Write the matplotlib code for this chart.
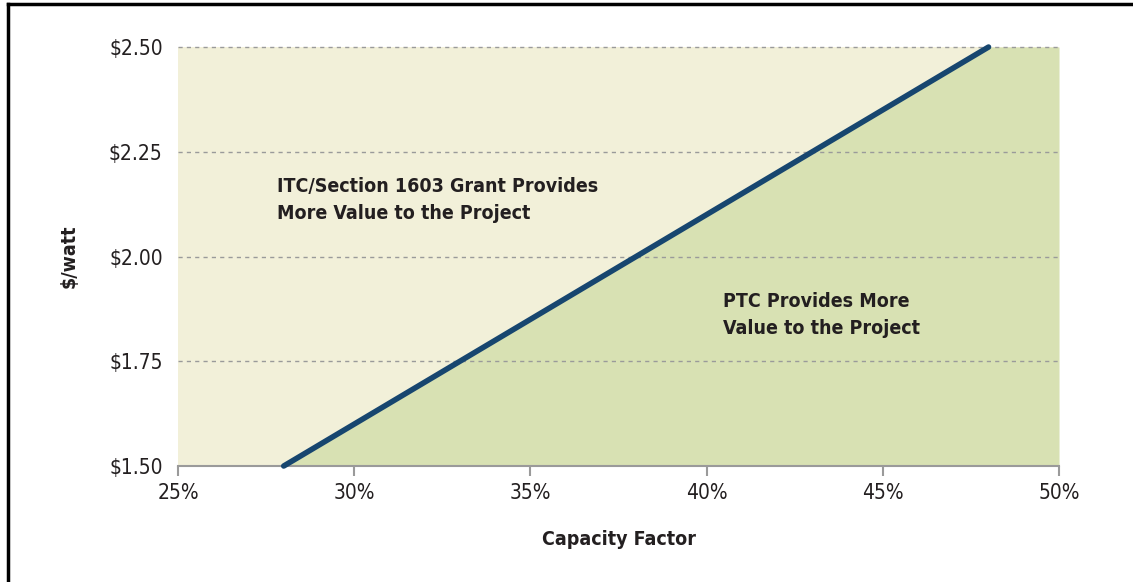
import matplotlib.pyplot as plt
from matplotlib.lines import Line2D

# breakeven line: capacity factor (%) vs installed cost ($/watt)
capacity_factor = [28, 48]
cost_per_watt = [1.50, 2.50]

x_ticks = [25, 30, 35, 40, 45, 50]
x_labels = ['25%', '30%', '35%', '40%', '45%', '50%']
y_ticks = [1.50, 1.75, 2.00, 2.25, 2.50]
y_labels = ['$1.50', '$1.75', '$2.00', '$2.25', '$2.50']

itc_label = 'ITC/Section 1603 Grant Provides\nMore Value to the Project'
ptc_label = 'PTC Provides More\nValue to the Project'

plt.rcParams['font.family'] = ['DejaVu Sans']
plt.rcParams['font.stretch'] = 'condensed'

fig = plt.figure(figsize=(11.33, 5.82), dpi=100)
ax = fig.add_axes([0.1571, 0.1993, 0.7776, 0.7199])

light = '#f2f0d9'
green = '#d8e1b3'
ax.set_facecolor(light)

# PTC region: below the breakeven line, continued flat to the right edge
fill_x = capacity_factor + [x_ticks[-1]]
fill_y = cost_per_watt + [cost_per_watt[-1]]
ax.fill_between(fill_x, fill_y, y_ticks[0], color=green, lw=0, zorder=1)

for y in y_ticks[1:]:
    ax.axhline(y, color='#9a9a9a', lw=1, ls=(0, (3, 3)), zorder=2, clip_on=False)

ax.plot(capacity_factor, cost_per_watt, color='#17466f', lw=4,
        solid_capstyle='round', zorder=3, clip_on=False)

ax.set_xlim(x_ticks[0], x_ticks[-1])
ax.set_ylim(y_ticks[0], y_ticks[-1])
ax.set_xticks(x_ticks)
ax.set_xticklabels(x_labels)
ax.set_yticks(y_ticks)
ax.set_yticklabels(y_labels)
ax.tick_params(axis='x', colors='#9a9a9a', length=7, width=1.5, labelsize=15,
               labelcolor='#231f20', pad=5)
ax.tick_params(axis='y', length=0, labelsize=15, labelcolor='#231f20', pad=11)

for side in ['top', 'right', 'left']:
    ax.spines[side].set_visible(False)
ax.spines['bottom'].set_color('#9a9a9a')
ax.spines['bottom'].set_linewidth(1.5)

ax.set_xlabel('Capacity Factor', fontsize=14, fontweight='bold', color='#231f20', labelpad=20)
ax.set_ylabel('$/watt', fontsize=14, fontweight='bold', color='#231f20', labelpad=22)

ax.text(27.8, 2.135, itc_label, fontsize=14, fontweight='bold', color='#231f20',
        ha='left', va='center', linespacing=1.5)
ax.text(40.47, 1.86, ptc_label, fontsize=14, fontweight='bold', color='#231f20',
        ha='left', va='center', linespacing=1.5)

# frame lines of the original figure (left and top)
fig.add_artist(Line2D([0.0075, 0.0075], [0, 0.993], transform=fig.transFigure, color='black', lw=2.5))
fig.add_artist(Line2D([0.0075, 1], [0.993, 0.993], transform=fig.transFigure, color='black', lw=2.5))

plt.savefig('out.png', dpi=100)
plt.close()
